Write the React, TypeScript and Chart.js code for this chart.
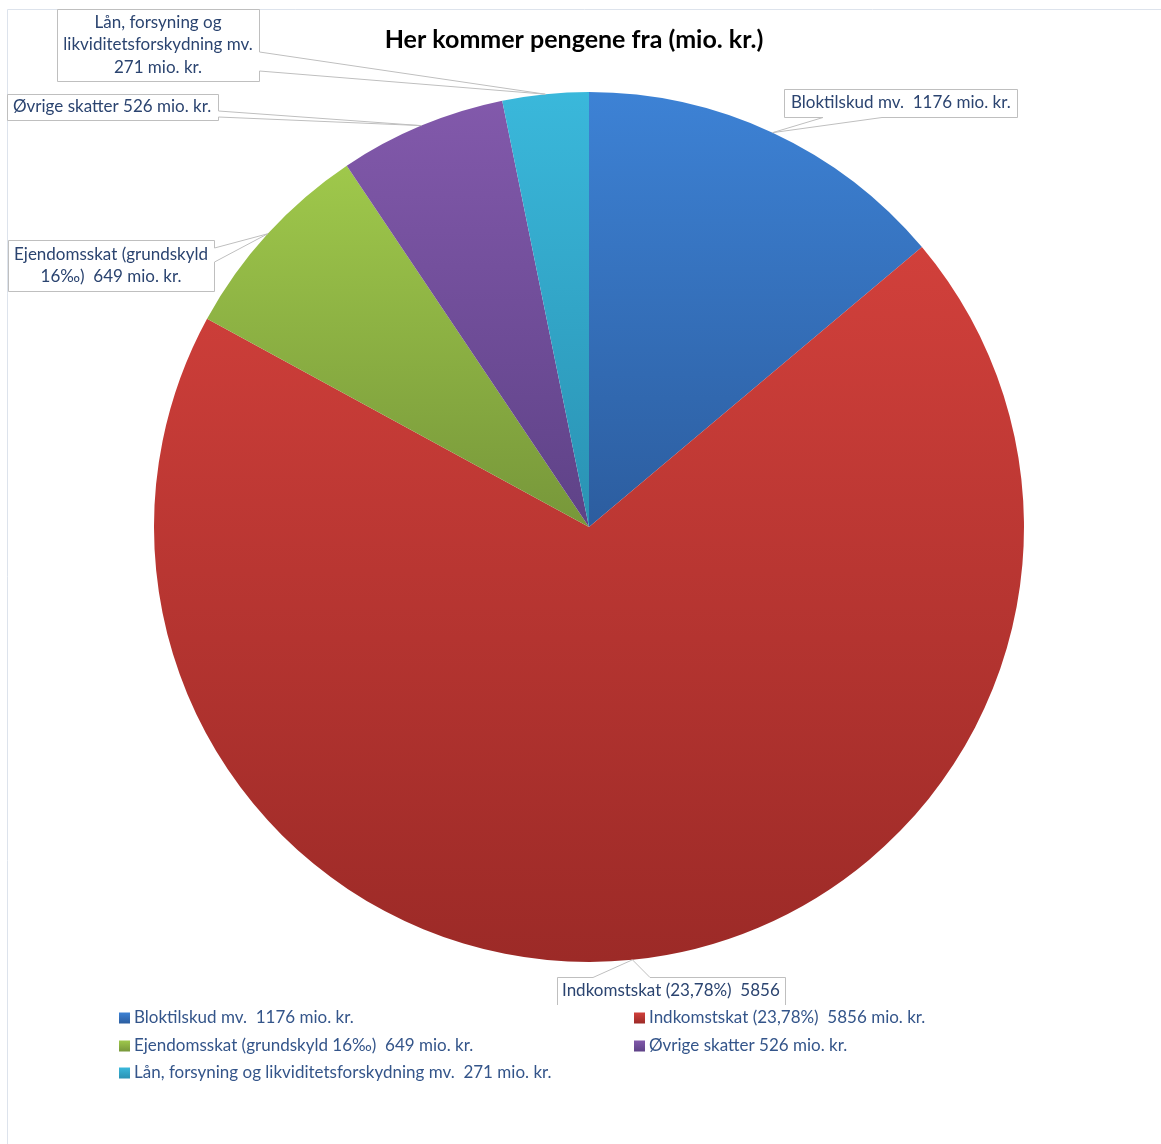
import React, { useEffect, useRef } from "react";
import { Chart, registerables } from "chart.js";

Chart.register(...registerables);

const title = "Her kommer pengene fra (mio. kr.)";
const categories = [
  "Bloktilskud mv.  1176 mio. kr.",
  "Indkomstskat (23,78%)  5856 mio. kr.",
  "Ejendomsskat (grundskyld 16‰)  649 mio. kr.",
  "Øvrige skatter 526 mio. kr.",
  "Lån, forsyning og likviditetsforskydning mv.  271 mio. kr.",
];
const values = [1176, 5856, 649, 526, 271];
const calloutTexts = [
  ["Bloktilskud mv.  1176 mio. kr."],
  ["Indkomstskat (23,78%)  5856"],
  ["Ejendomsskat (grundskyld", "16‰)  649 mio. kr."],
  ["Øvrige skatter 526 mio. kr."],
  ["Lån, forsyning og", "likviditetsforskydning mv.", "271 mio. kr."],
];
const colorTop = ["#3d82d5", "#d1403b", "#9fc84b", "#8259ab", "#3ab8db"];
const colorBottom = ["#2c5d9f", "#9c2a27", "#77973a", "#5e4287", "#2a92b3"];

// layout of callout boxes (pixel positions)
const callouts = [
  { x: 784, y: 89, w: 233, h: 28, side: "bottom", b1: 823, b2: 882, align: "left", tx: 791, noBottom: false },
  { x: 557, y: 977, w: 228, h: 28, side: "top", b1: 593, b2: 650, align: "left", tx: 562, noBottom: true },
  { x: 8, y: 240, w: 206, h: 51, side: "right", b1: 248, b2: 262, align: "center", tx: 0, noBottom: false },
  { x: 7, y: 94, w: 211, h: 26, side: "right", b1: 111, b2: 117, align: "left", tx: 13, noBottom: false },
  { x: 57, y: 9, w: 202, h: 72, side: "right", b1: 52, b2: 71, align: "center", tx: 0, noBottom: false },
];

const FONT = "Lato, 'Open Sans', sans-serif";
const LABEL_COLOR = "#2b4470";
const LEGEND_COLOR = "#34558a";

function sliceBounds(chart: any, index: number) {
  const a = chart.chartArea;
  const cx = (a.left + a.right) / 2;
  const cy = (a.top + a.bottom) / 2;
  const r = Math.min(a.right - a.left, a.bottom - a.top) / 2;
  const total = values.reduce((s, v) => s + v, 0);
  let start = -Math.PI / 2;
  for (let i = 0; i < index; i++) start += (values[i] / total) * Math.PI * 2;
  const end = start + (values[index] / total) * Math.PI * 2;
  const ys = [cy, cy + Math.sin(start) * r, cy + Math.sin(end) * r];
  const within = (ang: number) => {
    let t = ang;
    while (t < start) t += Math.PI * 2;
    return t <= end;
  };
  if (within(-Math.PI / 2)) ys.push(cy - r);
  if (within(Math.PI / 2)) ys.push(cy + r);
  return { top: Math.min(...ys), bottom: Math.max(...ys) };
}

const decorPlugin = {
  id: "decor",
  afterDraw(chart: any) {
    const ctx = chart.ctx as CanvasRenderingContext2D;
    ctx.save();
    // chart border
    ctx.strokeStyle = "#dde3ec";
    ctx.lineWidth = 1;
    ctx.beginPath();
    ctx.moveTo(7.5, chart.height);
    ctx.lineTo(7.5, 9.5);
    ctx.lineTo(chart.width, 9.5);
    ctx.stroke();

    // title
    ctx.fillStyle = "#000000";
    ctx.font = `bold 25px ${FONT}`;
    ctx.textAlign = "center";
    ctx.textBaseline = "middle";
    ctx.fillText(title, 574, 40);

    // callouts
    const meta = chart.getDatasetMeta(0);
    meta.data.forEach((arc: any, i: number) => {
      const c = callouts[i];
      const mid = (arc.startAngle + arc.endAngle) / 2;
      const tipX = arc.x + Math.cos(mid) * arc.outerRadius;
      const tipY = arc.y + Math.sin(mid) * arc.outerRadius;
      const x0 = c.x + 0.5, y0 = c.y + 0.5, x1 = c.x + c.w + 0.5, y1 = c.y + c.h + 0.5;
      ctx.fillStyle = "#ffffff";
      ctx.fillRect(x0, y0, c.w, c.h);
      ctx.strokeStyle = "#bfbfbf";
      ctx.lineWidth = 1;
      ctx.beginPath();
      if (c.side === "bottom") {
        ctx.moveTo(x0, y0);
        ctx.lineTo(x1, y0);
        ctx.lineTo(x1, y1);
        ctx.lineTo(c.b2, y1);
        ctx.lineTo(tipX, tipY);
        ctx.lineTo(c.b1, y1);
        ctx.lineTo(x0, y1);
        ctx.closePath();
      } else if (c.side === "top") {
        ctx.moveTo(x0, y1);
        ctx.lineTo(x0, y0);
        ctx.lineTo(c.b1, y0);
        ctx.lineTo(tipX, tipY);
        ctx.lineTo(c.b2, y0);
        ctx.lineTo(x1, y0);
        ctx.lineTo(x1, y1);
        if (!c.noBottom) ctx.closePath();
      } else {
        ctx.moveTo(x0, y0);
        ctx.lineTo(x1, y0);
        ctx.lineTo(x1, c.b1);
        ctx.lineTo(tipX, tipY);
        ctx.lineTo(x1, c.b2);
        ctx.lineTo(x1, y1);
        ctx.lineTo(x0, y1);
        ctx.closePath();
      }
      ctx.stroke();

      const lines = calloutTexts[i];
      ctx.fillStyle = LABEL_COLOR;
      ctx.font = `17px ${FONT}`;
      ctx.textBaseline = "middle";
      const lh = 22.5;
      const startY = c.y + c.h / 2 - ((lines.length - 1) * lh) / 2;
      lines.forEach((t, k) => {
        if (c.align === "center") {
          ctx.textAlign = "center";
          ctx.fillText(t, c.x + c.w / 2, startY + k * lh);
        } else {
          ctx.textAlign = "left";
          ctx.fillText(t, c.tx, startY + k * lh);
        }
      });
    });

    // legend
    const legendPos = [
      [119, 1018],
      [634, 1018],
      [119, 1046],
      [634, 1046],
      [119, 1073],
    ];
    ctx.fillStyle = "#ffffff";
    ctx.fillRect(100, 1005, 900, 85);
    categories.forEach((name, i) => {
      const [lx, ly] = legendPos[i];
      const g = ctx.createLinearGradient(0, ly - 5.5, 0, ly + 5.5);
      g.addColorStop(0, colorTop[i]);
      g.addColorStop(1, colorBottom[i]);
      ctx.fillStyle = g;
      ctx.fillRect(lx, ly - 5.5, 11, 11);
      ctx.fillStyle = LEGEND_COLOR;
      ctx.font = `17px ${FONT}`;
      ctx.textAlign = "left";
      ctx.textBaseline = "middle";
      ctx.fillText(name, lx + 15, ly);
    });
    ctx.restore();
  },
};

export default function App() {
  const ref = useRef<HTMLCanvasElement | null>(null);
  useEffect(() => {
    if (!ref.current) return;
    const chart = new Chart(ref.current, {
      type: "pie",
      data: {
        labels: categories,
        datasets: [
          {
            data: values,
            borderWidth: 0,
            backgroundColor: (c: any) => {
              const chart = c.chart;
              const i = c.dataIndex ?? 0;
              if (!chart.chartArea) return colorTop[i];
              const b = sliceBounds(chart, i);
              const g = chart.ctx.createLinearGradient(0, b.top, 0, b.bottom);
              g.addColorStop(0, colorTop[i]);
              g.addColorStop(1, colorBottom[i]);
              return g;
            },
          },
        ],
      },
      options: {
        responsive: false,
        animation: false,
        layout: { padding: { left: 154, right: 137, top: 92, bottom: 182 } },
        plugins: {
          legend: { display: false },
          title: { display: false },
          tooltip: { enabled: false },
        },
        events: [],
      },
      plugins: [decorPlugin],
    });
    return () => chart.destroy();
  }, []);
  return (
    <div style={{ position: "absolute", left: 0, top: 0, width: 1161, height: 1144, background: "#fff" }}>
      <canvas ref={ref} width={1161} height={1144} style={{ width: 1161, height: 1144 }} />
    </div>
  );
}
